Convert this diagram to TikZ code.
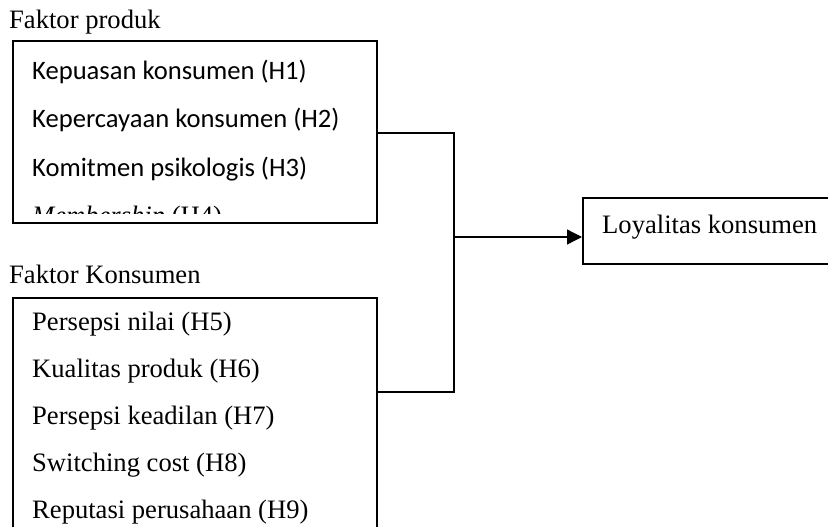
\documentclass[tikz,border=0pt]{standalone}
\usepackage{fontspec}
\setmainfont{Liberation Serif}
\newfontfamily\calfont{Carlito}
\usetikzlibrary{arrows.meta}
\tikzset{
  frame/.style={draw, line width=1.6pt, rectangle, inner sep=0pt, anchor=north west},
  lbl/.style={inner sep=0pt, anchor=base west, font=\fontsize{26.6}{32}\selectfont},
  sanslbl/.style={lbl, font=\fontsize{26.6}{32}\selectfont\calfont},
  conn/.style={line width=1.3pt},
}
\begin{document}
\begin{tikzpicture}[x=1pt, y=-1pt]
\useasboundingbox (0,0) rectangle (828,527);
\begin{scope}
\clip (0,0) rectangle (828,527);
% boxes
\node[frame, minimum width=364pt, minimum height=182pt] (prod) at (12,40) {};
\node[frame, minimum width=364pt, minimum height=250pt] (kons) at (12,297) {};
\node[frame, minimum width=260pt, minimum height=66pt] (loy) at (582,197) {};
% titles
\node[lbl] (tprod) at (9,29) {Faktor produk};
\node[lbl] (tkons) at (9,283) {Faktor Konsumen};
% top box items
\node[sanslbl] (h1) at (32,80) {Kepuasan konsumen (H1)};
\node[sanslbl] (h2) at (32,128) {Kepercayaan konsumen (H2)};
\node[sanslbl] (h3) at (32,176) {Komitmen psikologis (H3)};
\begin{scope}
\clip (14,42) rectangle (374,213);
\node[lbl] (h4) at (32,224) {\textit{Membership} (H4)};
\end{scope}
% lower box items
\node[lbl] (h5) at (32,330) {Persepsi nilai (H5)};
\node[lbl] (h6) at (32,377) {Kualitas produk (H6)};
\node[lbl] (h7) at (32,424) {Persepsi keadilan (H7)};
\node[lbl] (h8) at (32,471) {Switching cost (H8)};
\node[lbl] (h9) at (32,518) {Reputasi perusahaan (H9)};
% target text
\node[lbl] (loytext) at (602,233) {Loyalitas konsumen};
% connectors
\coordinate (j1) at (454,133);
\coordinate (j2) at (454,392);
\coordinate (jm) at (454,237);
\draw[conn] (prod.east |- j1) -- (j1) -- (j2) -- (kons.east |- j2);
\draw[conn, -{Triangle[length=15pt, width=15pt]}] (jm) -- (loy.west |- jm);
\end{scope}
\end{tikzpicture}
\end{document}
